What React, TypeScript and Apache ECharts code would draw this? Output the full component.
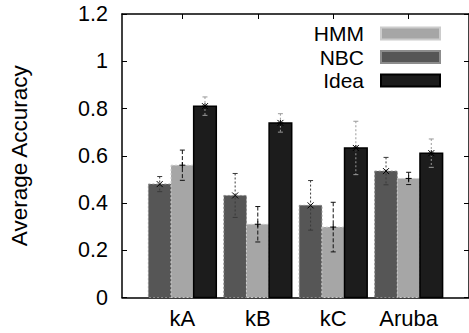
import React, { useEffect, useRef } from "react";
import * as echarts from "echarts";

// Accuracy per dataset, mean and half-width of the error bar
const categories = ["kA", "kB", "kC", "Aruba"];
const nbcMean = [0.48, 0.432, 0.39, 0.535];
const nbcErr = [0.032, 0.093, 0.105, 0.058];
const hmmMean = [0.56, 0.31, 0.298, 0.504];
const hmmErr = [0.064, 0.075, 0.105, 0.026];
const ideaMean = [0.81, 0.739, 0.633, 0.611];
const ideaErr = [0.039, 0.039, 0.113, 0.06];
const legendOrder = ["HMM", "NBC", "Idea"];

const FONT = "'Liberation Sans', Arial, Helvetica, sans-serif";
const BAR_W = 0.3;
const catTicks = categories.map((_, i) => i);

type Look = {
  fill: string;
  stroke: string;
  strokeWidth: number;
  strokeDash: number[] | null;
  errColor: string;
  errDash: number[];
  marker: "x" | "+" | "*";
};

const makeRender = (offset: number, look: Look) => (params: any, api: any) => {
  const c = api.value(0) + offset;
  const m = api.value(1);
  const e = api.value(2);
  const bl = api.coord([c - BAR_W / 2, 0]);
  const tr = api.coord([c + BAR_W / 2, m]);
  const top = api.coord([c, m + e]);
  const bot = api.coord([c, m - e]);
  const mid = api.coord([c, m]);
  const cap = 2.5;
  const mk = 3;
  const errStyle = { stroke: look.errColor, lineWidth: 1, lineDash: look.errDash };
  const solid = { stroke: "#000", lineWidth: 1 };
  const children: any[] = [
    {
      type: "rect",
      shape: { x: bl[0], y: tr[1], width: tr[0] - bl[0], height: bl[1] - tr[1] },
      style: {
        fill: look.fill,
        stroke: look.stroke,
        lineWidth: look.strokeWidth,
        lineDash: look.strokeDash || undefined,
      },
    },
    { type: "line", shape: { x1: top[0], y1: top[1], x2: bot[0], y2: bot[1] }, style: errStyle },
    { type: "line", shape: { x1: top[0] - cap, y1: top[1], x2: top[0] + cap, y2: top[1] }, style: { stroke: look.errColor, lineWidth: 1 } },
    { type: "line", shape: { x1: bot[0] - cap, y1: bot[1], x2: bot[0] + cap, y2: bot[1] }, style: { stroke: look.errColor, lineWidth: 1 } },
  ];
  if (look.marker === "x" || look.marker === "*") {
    children.push(
      { type: "line", shape: { x1: mid[0] - mk, y1: mid[1] - mk, x2: mid[0] + mk, y2: mid[1] + mk }, style: solid },
      { type: "line", shape: { x1: mid[0] - mk, y1: mid[1] + mk, x2: mid[0] + mk, y2: mid[1] - mk }, style: solid }
    );
  }
  if (look.marker === "+" || look.marker === "*") {
    children.push(
      { type: "line", shape: { x1: mid[0] - mk, y1: mid[1], x2: mid[0] + mk, y2: mid[1] }, style: solid },
      { type: "line", shape: { x1: mid[0], y1: mid[1] - mk, x2: mid[0], y2: mid[1] + mk }, style: solid }
    );
  }
  return { type: "group", children };
};

const looks: Record<string, Look> = {
  NBC: { fill: "#565656", stroke: "#8c8c8c", strokeWidth: 1, strokeDash: [2, 2], errColor: "#3a3a3a", errDash: [2, 2], marker: "x" },
  HMM: { fill: "#a6a6a6", stroke: "#cccccc", strokeWidth: 1, strokeDash: [2, 2], errColor: "#111", errDash: [4, 2], marker: "+" },
  Idea: { fill: "#1c1c1c", stroke: "#000", strokeWidth: 1.5, strokeDash: null, errColor: "#9a9a9a", errDash: [2, 2], marker: "*" },
};

const build = (name: string, offset: number, mean: number[], err: number[]) => ({
  type: "custom",
  name,
  xAxisIndex: 0,
  yAxisIndex: 0,
  encode: { x: 0, y: 1 },
  itemStyle: { color: looks[name].fill, borderColor: looks[name].stroke, borderWidth: 1 },
  renderItem: makeRender(offset, looks[name]),
  data: categories.map((_, i) => [i, mean[i], err[i]]),
});

export default function App() {
  const ref = useRef<HTMLDivElement>(null);
  useEffect(() => {
    if (!ref.current) return;
    const chart = echarts.init(ref.current, undefined, { renderer: "svg" });
    const axisLine = { show: true, onZero: false, lineStyle: { color: "#000", width: 1.5 } };
    const tick = { show: true, inside: true, length: 5, lineStyle: { color: "#000", width: 1 } };
    chart.setOption({
      animation: false,
      backgroundColor: "#fff",
      textStyle: { fontFamily: FONT },
      grid: { left: 114, top: 14, width: 358, height: 283.5 },
      legend: {
        data: legendOrder,
        orient: "vertical",
        right: 23,
        top: 18,
        align: "right",
        icon: "rect",
        itemWidth: 59,
        itemHeight: 12,
        itemGap: 2.5,
        selectedMode: false,
        textStyle: {
          fontSize: 21,
          lineHeight: 21,
          color: "#000",
          fontFamily: FONT,
          padding: [0, 12, 0, 0],
        },
      },
      xAxis: [
        {
          type: "value",
          position: "bottom",
          min: -0.8,
          max: 3.8,
          axisLine,
          axisTick: { ...tick, customValues: catTicks },
          axisLabel: {
            customValues: catTicks,
            formatter: (v: number) => categories[Math.round(v)] ?? "",
            fontSize: 22,
            color: "#000",
            fontFamily: FONT,
            margin: 10,
          },
          splitLine: { show: false },
        },
        {
          type: "value",
          position: "top",
          min: -0.8,
          max: 3.8,
          axisLine,
          axisTick: { ...tick, customValues: catTicks },
          axisLabel: { show: false },
          splitLine: { show: false },
        },
      ],
      yAxis: [
        {
          type: "value",
          min: 0,
          max: 1.2,
          interval: 0.2,
          name: "Average Accuracy",
          nameLocation: "middle",
          nameRotate: 90,
          nameGap: 91,
          nameTextStyle: { fontSize: 22.5, color: "#000", fontFamily: FONT },
          axisLine,
          axisTick: tick,
          axisLabel: { fontSize: 21.5, color: "#000", fontFamily: FONT, margin: 14 },
          splitLine: { show: false },
        },
        {
          type: "value",
          position: "right",
          min: 0,
          max: 1.2,
          interval: 0.2,
          axisLine,
          axisTick: tick,
          axisLabel: { show: false },
          splitLine: { show: false },
        },
      ],
      series: [
        build("NBC", -BAR_W, nbcMean, nbcErr),
        build("HMM", 0, hmmMean, hmmErr),
        build("Idea", BAR_W, ideaMean, ideaErr),
      ],
    });
    return () => chart.dispose();
  }, []);
  return (
    <div
      ref={ref}
      style={{ position: "absolute", left: 0, top: 0, width: 469, height: 333 }}
    />
  );
}
